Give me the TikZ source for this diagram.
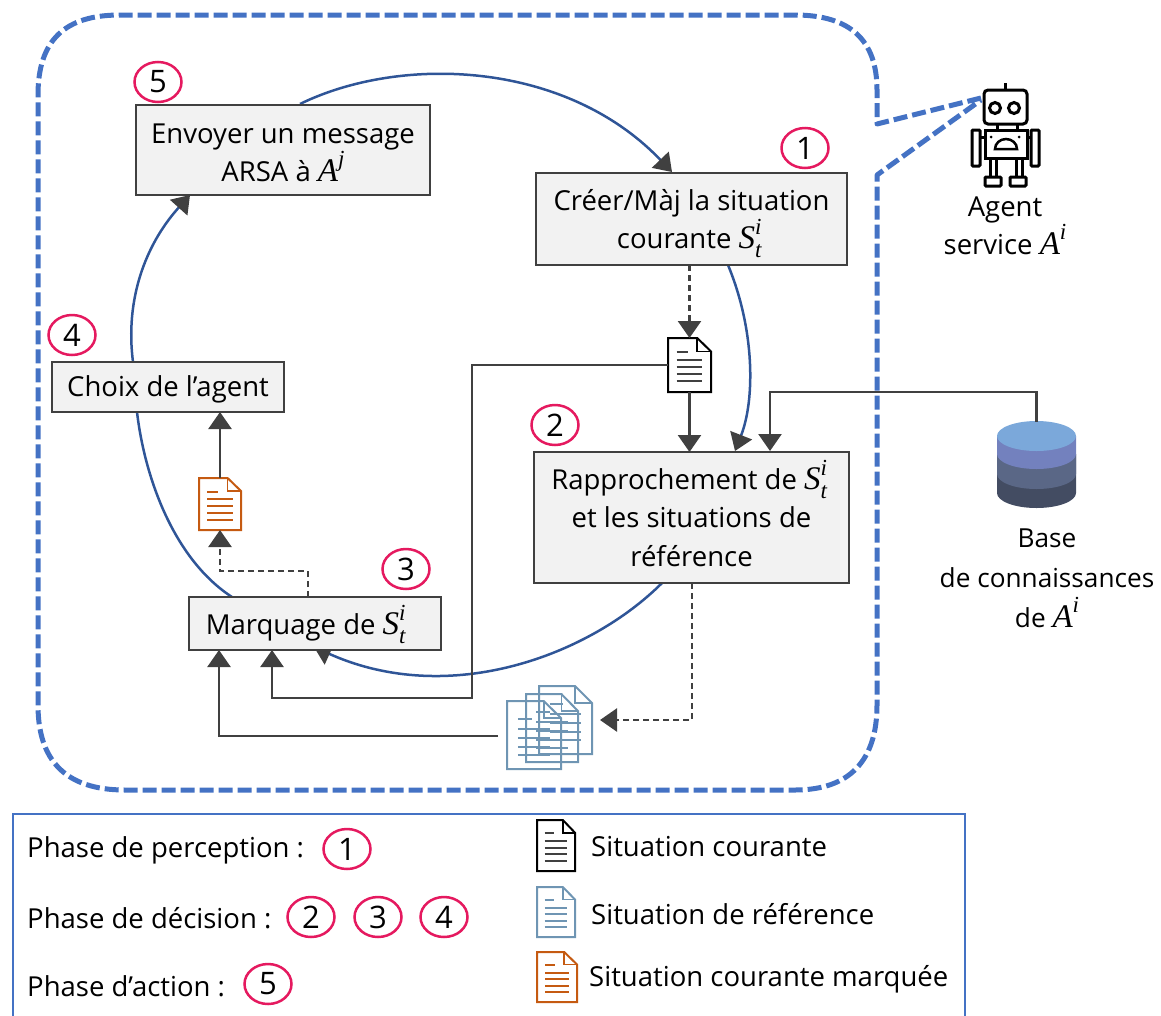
\documentclass[tikz,border=0pt]{standalone}
\usepackage{fontspec}
\setmainfont{Open Sans}
\newfontfamily\mi{Liberation Serif}
\usetikzlibrary{arrows.meta,shapes.geometric}
\definecolor{outl}{HTML}{4472C4}
\definecolor{arcb}{HTML}{2F5597}
\definecolor{dk}{HTML}{404040}
\definecolor{boxf}{HTML}{F2F2F2}
\definecolor{pink}{HTML}{E5195F}
\definecolor{refc}{HTML}{6F95B3}
\definecolor{orc}{HTML}{C55A11}
\definecolor{dba}{HTML}{7BA8DA}
\definecolor{dbb}{HTML}{7381BE}
\definecolor{dbc}{HTML}{5A6786}
\definecolor{dbd}{HTML}{434C62}
\newcommand{\fs}{\fontsize{27.5}{38.5}\selectfont}
\newcommand{\smf}{\fontsize{23}{23}\selectfont}
\newcommand{\bgf}{\fontsize{33}{33}\selectfont}
\newcommand{\mvar}[1]{{\mi\itshape #1}}
\newcommand{\Sti}{\smash{{\bgf\mvar{S}}\rlap{\raisebox{-.32em}{\smf\mvar{t}}}\raisebox{.5em}{\smf\mvar{i}}\,}}
\newcommand{\Ai}{\smash{{\bgf\mvar{A}}\raisebox{.55em}{\smf\mvar{i}}}}
\newcommand{\Aj}{\smash{{\bgf\mvar{A}}\raisebox{.55em}{\smf\mvar{j}}}}
\newcommand{\stt}[1]{\rule{0pt}{#1pt}}
\newcommand{\docicon}[6]{% x y w h linecolor rulecolor
\begin{scope}[shift={(#1,#2)},x=#3pt,y=-#4pt]
\draw[#5,line width=2pt,line join=miter] (0,0) -- (.68,0) -- (1,.25) -- (1,1) -- (0,1) -- cycle;
\draw[#5,line width=1.6pt] (.68,0) -- (.68,.25) -- (1,.25);
\draw[#6,line width=2pt] (.2,.26) -- (.46,.26);
\foreach \yy in {.41,.54,.67,.8} \draw[#6,line width=2pt] (.2,\yy) -- (.8,\yy);
\end{scope}}
\tikzset{
 box/.style={draw=dk,line width=2.5pt,fill=boxf,align=center,font=\fs,inner sep=0pt,outer sep=0pt},
 num/.style={draw=pink,line width=2.5pt,ellipse,minimum width=47pt,minimum height=40pt,inner sep=0pt,font=\fontsize{31}{31}\selectfont,fill=white},
 lab/.style={align=center,font=\fs,inner sep=0pt},
 leg/.style={anchor=west,font=\fs,inner sep=0pt},
 hole/.style={inner sep=0pt,outer sep=0pt},
 con/.style={draw=dk,line width=2.5pt,-{Triangle[length=17pt,width=23pt,fill=dk]}},
 dcon/.style={con,dash pattern=on 6pt off 4pt},
 arc/.style={draw=arcb,line width=2.5pt},
 arca/.style={arc,-{Triangle[length=17pt,width=23pt,fill=dk,color=dk]}},
}
\begin{document}
\begin{tikzpicture}[x=1pt,y=-1pt]
\useasboundingbox (0,0) rectangle (1161,1015);
% outline
\draw[outl,line width=5pt,dash pattern=on 14pt off 5pt,line join=round]
 (981,98) -- (877,124) -- (877,90) .. controls (877,40) and (850,15) .. (795,15) -- (120,15)
 .. controls (65,15) and (38,40) .. (38,95) -- (38,705) .. controls (38,760) and (65,790) .. (125,790)
 -- (795,790) .. controls (850,790) and (877,760) .. (877,705) -- (877,175) -- (981,100);
% arcs (under the boxes)
\coordinate (a5) at (300,104);
\coordinate (a1) at (672,172);
\coordinate (b1s) at (728,265);
\coordinate (b2n) at (735,451);
\draw[arca] (a5) .. controls (400,55) and (565,60) .. (a1);
\draw[arca] (b1s) .. controls (755,330) and (755,400) .. (b2n);
\draw[arca] (662,583) .. controls (590,655) and (450,708) .. (314,647);
\draw[arc] (232,597) .. controls (175,560) and (145,480) .. (137,412);
\draw[arca] (133,362) .. controls (125,300) and (145,245) .. (190,195);
% boxes
\node[box,minimum width=294pt,minimum height=90pt] (b5) at (283,150) {\stt{25}Envoyer un message\\ARSA à \Aj};
\node[box,minimum width=311pt,minimum height=92pt] (b1) at (691.5,219) {Créer/Màj la situation\\courante \Sti};
\node[box,minimum width=232pt,minimum height=50pt] (b4) at (168,387) {\stt{26}Choix de l’agent};
\node[box,minimum width=315pt,minimum height=131pt] (b2) at (691.5,517.5) {Rapprochement de \Sti\\et les situations de\\référence};
\node[box,minimum width=252pt,minimum height=53pt] (b3) at (315,623.5) {\stt{29}Marquage de \Sti\hspace{14pt}};
% doc nodes
\node[hole,minimum width=43pt,minimum height=54pt] (d1) at (689.5,365) {};
\docicon{668}{338}{43}{54}{black}{dk}
\node[hole,minimum width=42pt,minimum height=52pt] (d3) at (220,504) {};
\docicon{199}{478}{42}{52}{orc}{orc}
\node[hole,minimum width=85pt,minimum height=83pt] (dr) at (549.5,727.5) {};
\docicon{539}{686}{53}{68}{refc}{refc}
\docicon{526}{694}{52}{68}{refc}{refc}
\docicon{507}{701}{54}{68}{refc}{refc}
% database
\node[hole,minimum width=79pt,minimum height=87pt] (kb) at (1036.5,465) {};
\fill[dbd] (997,454) -- (997,493) arc[start angle=180,end angle=0,x radius=39.5,y radius=15] -- (1076,454) -- cycle;
\fill[dbc] (997,454) -- (997,474) arc[start angle=180,end angle=0,x radius=39.5,y radius=15] -- (1076,454) -- cycle;
\fill[dbb] (997,436) -- (997,454) arc[start angle=180,end angle=0,x radius=39.5,y radius=15] -- (1076,436) -- cycle;
\fill[dba] (1036.5,436) ellipse[x radius=39.5,y radius=15];
% connectors
\coordinate (drin) at (600,720);
\coordinate (drout) at (498,736);
\draw[dcon] (b1.south -| d1) -- (d1.north);
\draw[con] (d1.south) -- (d1.south |- b2.north);
\draw[con] (d1.west) -- (472,365) -- (472,698) -- (272,698) -- (272,650);
\draw[con] (kb.north) -- (1036.5,392) -- (770,392) -- (770,451);
\draw[dcon] (692,583) -- (692,720) -- (drin);
\draw[con] (drout) -- (219,736) -- (219,650);
\draw[dcon] (308,597) -- (308,571) -- (220,571) -- (d3.south);
\draw[con] (d3.north) -- (b4.south -| d3);
% numbers
\node[num] (n5) at (158,82) {5};
\node[num] (n1) at (805,148) {1};
\node[num] (n4) at (72,335) {4};
\node[num] (n2) at (555,425) {2};
\node[num] (n3) at (406,569) {3};
% robot
\begin{scope}[line width=3pt,black]
\draw[rounded corners=4pt] (984,90) rectangle (1027,124);
\draw (1005,83) -- (1005,90);
\draw (995,108) circle[radius=5.5];
\draw (1014,108) circle[radius=5.5];
\draw (997,124) -- (997,130) (1017,124) -- (1017,130);
\draw (985,130) rectangle (1027,158);
\draw[rounded corners=1pt] (972,130) rectangle (980,166);
\draw[rounded corners=1pt] (1031,130) rectangle (1039,166);
\draw (980,137) -- (985,137) (1027,137) -- (1031,137);
\draw (990,158) -- (990,178) (996,158) -- (996,178) (1016,158) -- (1016,178) (1022,158) -- (1022,178);
\draw[rounded corners=1pt] (985,177) rectangle (1001,186);
\draw[rounded corners=1pt] (1010,177) rectangle (1026,186);
\draw[line width=2.5pt] (995,149) arc[start angle=180,end angle=360,x radius=11,y radius=10] -- cycle;
\fill (991,137) circle[radius=1.5] (1019,137) circle[radius=1.5];
\end{scope}
\node[lab] (agent) at (1005,226) {Agent\\service \Ai};
\node[lab,font=\fontsize{26.2}{40}\selectfont] (base) at (1047,578) {Base\\de connaissances\\de \Ai};
% legend
\draw[outl,line width=1.5pt] (13,1020) -- (13,814) -- (965,814) -- (965,1020);
\node[leg] (l1) at (27,850) {Phase de perception :};
\node[leg] (l2) at (27,918) {Phase de décision :};
\node[leg] (l3) at (27,986) {Phase d’action :};
\node[num] (m1) at (347,849) {1};
\node[num] (m2) at (311,917) {2};
\node[num] (m3) at (378,917) {3};
\node[num] (m4) at (444,917) {4};
\node[num] (m5) at (268,984) {5};
\docicon{537}{820}{38}{51}{black}{dk}
\docicon{537}{887}{38}{50}{refc}{refc}
\docicon{537}{952}{40}{50}{orc}{orc}
\node[leg] (t1) at (591,847) {Situation courante};
\node[leg] (t2) at (591,914) {Situation de référence};
\node[leg] (t3) at (589,979) {Situation courante marquée};
\end{tikzpicture}
\end{document}
